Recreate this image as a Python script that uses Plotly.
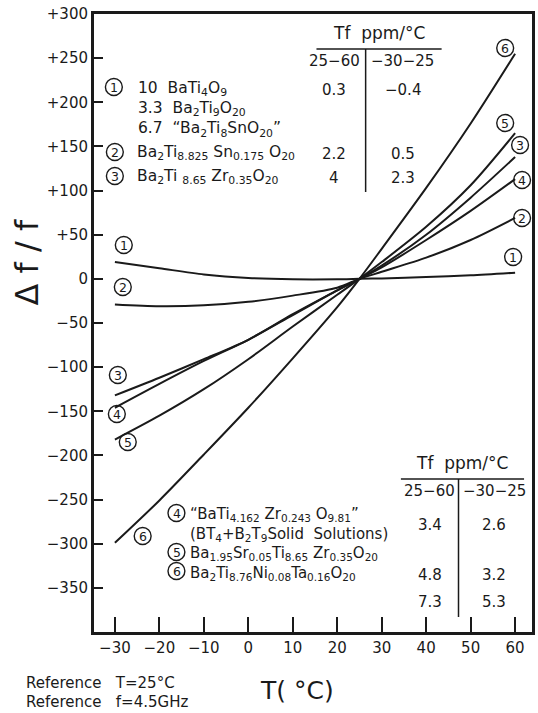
import plotly.graph_objects as go

# Temperature grid (deg C) and frequency shift (ppm) for each composition
temps = [-30, -20, -10, 0, 10, 20, 25, 30, 40, 50, 60]
curve_1 = [19, 12, 5, 1, -0.5, -0.5, 0, 0.5, 2, 4, 7]
curve_2 = [-29, -31, -30, -26, -19, -10, 0, 8, 24, 44, 69]
curve_3 = [-132, -112, -91, -69, -40, -13, 0, 15, 50, 92, 138]
curve_4 = [-146, -119, -93, -69, -41, -13, 0, 13, 44, 77, 113]
curve_5 = [-182, -155, -125, -91, -54, -18, 0, 19, 59, 106, 165]
curve_6 = [-299, -251, -199, -146, -90, -32, 0, 34, 103, 176, 255]
series = [curve_1, curve_2, curve_3, curve_4, curve_5, curve_6]
curve_ids = ["1", "2", "3", "4", "5", "6"]

x_ticks = [-30, -20, -10, 0, 10, 20, 30, 40, 50, 60]
y_ticks = [300, 250, 200, 150, 100, 50, 0, -50, -100, -150, -200, -250, -300, -350]
y_ticklabels = ["+300", "+250", "+200", "+150", "+100", "+50", "0", "\u221250", "\u2212100",
                "\u2212150", "\u2212200", "\u2212250", "\u2212300", "\u2212350"]

# Temperature coefficients (ppm/degC) for the two temperature ranges
tf_25_60 = ["0.3", "2.2", "4", "3.4", "4.8", "7.3"]
tf_m30_25 = ["\u22120.4", "0.5", "2.3", "2.6", "3.2", "5.3"]

W, H = 538, 713
PL, PR, PT, PB = 94, 535, 14, 632
FONT = "DejaVu Sans"
INK = "#1a1a1a"


def fx(x):
    return (x - PL) / (PR - PL)


def fy(y):
    return (PB - y) / (PB - PT)


fig = go.Figure()
for vals in series:
    fig.add_trace(go.Scatter(x=temps, y=vals, mode="lines",
                             line=dict(color=INK, width=2, shape="spline", smoothing=0.8),
                             showlegend=False, hoverinfo="skip"))

ann = []
shapes = []


def text(x, y, s, size=14, xanchor="left", **kw):
    ann.append(dict(x=fx(x), y=fy(y), xref="paper", yref="paper", text=s, showarrow=False,
                    xanchor=xanchor, yanchor="middle", font=dict(family=FONT, size=size, color=INK), **kw))


def block(x, y_top, lines, size):
    ann.append(dict(x=fx(x), y=fy(y_top), xref="paper", yref="paper", showarrow=False,
                    xanchor="left", yanchor="top", align="left", text="<br>".join(lines),
                    font=dict(family=FONT, size=size, color=INK)))


def circ(x, y, i, r=8.5):
    # numbered circle: outline shape plus the digit
    shapes.append(dict(type="circle", xref="paper", yref="paper",
                       x0=fx(x - r), x1=fx(x + r), y0=fy(y + r), y1=fy(y - r),
                       line=dict(color=INK, width=1.4)))
    text(x + 0.3, y + 0.5, curve_ids[i], size=12.5, xanchor="center")


# numbered labels at both ends of each curve
left_pos = [(124, 245), (123, 287), (118, 375), (117, 414), (128, 442), (143, 536)]
right_pos = [(516, 257), (525, 218), (523, 145), (525, 180), (508, 123), (508, 48)]
for i in range(6):
    circ(*left_pos[i], i)
    circ(*right_pos[i], i)

# upper composition list
circ(114, 87, 0)
block(136, 77, ["10  BaTi<sub>4</sub>O<sub>9</sub>",
                "3.3  Ba<sub>2</sub>Ti<sub>9</sub>O<sub>20</sub>",
                "6.7  \u201cBa<sub>2</sub>Ti<sub>8</sub>SnO<sub>20</sub>\u201d"], 15.5)
circ(115, 152, 1)
text(135, 153, "Ba<sub>2</sub>Ti<sub>8.825</sub> Sn<sub>0.175</sub> O<sub>20</sub>", size=15.5)
circ(115, 176, 2)
text(135, 177, "Ba<sub>2</sub>Ti <sub>8.65</sub> Zr<sub>0.35</sub>O<sub>20</sub>", size=15.5)

# lower composition list
circ(177, 513, 3)
circ(177, 552, 4)
circ(177, 571, 5)
block(189, 503, ["\u201cBaTi<sub>4.162</sub> Zr<sub>0.243</sub> O<sub>9.81</sub>\u201d",
                 "(BT<sub>4</sub>+B<sub>2</sub>T<sub>9</sub>Solid  Solutions)",
                 "Ba<sub>1.95</sub>Sr<sub>0.05</sub>Ti<sub>8.65</sub> Zr<sub>0.35</sub>O<sub>20</sub>",
                 "Ba<sub>2</sub>Ti<sub>8.76</sub>Ni<sub>0.08</sub>Ta<sub>0.16</sub>O<sub>20</sub>"], 15)


# coefficient tables
def table(cx_hi, cx_lo, x0, x1, xv, y_head, y_rule, y_cols, y_end, rows):
    text((x0 + x1) / 2, y_head, "Tf  ppm/\u00b0C", size=17, xanchor="center")
    text(cx_hi, y_cols, "25\u221260", size=15, xanchor="center")
    text(cx_lo, y_cols, "\u221230\u221225", size=15, xanchor="center")
    shapes.append(dict(type="line", xref="paper", yref="paper", x0=fx(x0), x1=fx(x1),
                       y0=fy(y_rule), y1=fy(y_rule), line=dict(color=INK, width=1.5)))
    shapes.append(dict(type="line", xref="paper", yref="paper", x0=fx(xv), x1=fx(xv),
                       y0=fy(y_rule), y1=fy(y_end), line=dict(color=INK, width=1.5)))
    for idx, yy in rows:
        text(cx_hi, yy, tf_25_60[idx], size=15, xanchor="center")
        text(cx_lo, yy, tf_m30_25[idx], size=15, xanchor="center")


table(336, 405, 318, 444, 367.5, 33, 49, 61, 192, [(0, 90), (1, 154), (2, 178)])
table(432, 497, 403, 527, 461, 463, 479, 491, 617, [(3, 525), (4, 575), (5, 602)])

# axis titles and reference notes
ann.append(dict(x=fx(27), y=fy(262), xref="paper", yref="paper", text="\u0394 f / f", showarrow=False,
                textangle=-90, xanchor="center", yanchor="middle",
                font=dict(family=FONT, size=32, color=INK)))
text(298, 690, "T( \u00b0C)", size=25, xanchor="center")
text(24, 683, "Reference   T=25\u00b0C", size=15)
text(24, 702, "Reference   f=4.5GHz", size=15)

axis_common = dict(showline=True, linecolor=INK, linewidth=3, mirror=True, showgrid=False,
                   zeroline=False, ticks="inside", tickcolor=INK, tickwidth=2,
                   tickfont=dict(family=FONT, size=15, color=INK))

fig.update_layout(
    width=W, height=H,
    margin=dict(l=PL, r=W - PR, t=PT, b=H - PB),
    paper_bgcolor="white", plot_bgcolor="white",
    xaxis=dict(range=[-34.7, 63.8], tickvals=x_ticks,
               ticktext=[("\u2212%d" % -v) if v < 0 else str(v) for v in x_ticks],
               ticklen=15, **axis_common),
    yaxis=dict(range=[-400, 300], tickvals=y_ticks, ticktext=y_ticklabels, ticklen=9,
               **axis_common),
    annotations=ann,
    shapes=shapes,
)

fig.write_html("out.html")
